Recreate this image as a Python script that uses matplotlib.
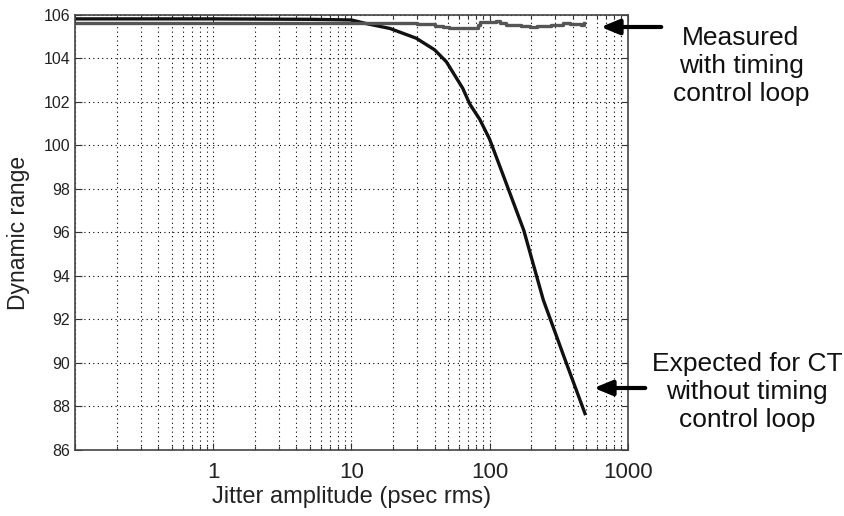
import numpy as np
import matplotlib.pyplot as plt
from matplotlib.ticker import FixedLocator, NullFormatter

plt.rcParams['font.family'] = ['Liberation Sans', 'DejaVu Sans']

# expected dynamic range for CT without timing control loop
expected_x = [0.1, 1, 5, 10, 12.9, 19, 29.5, 40, 48.7, 64, 72, 85, 100, 127, 177, 245, 350, 496]
expected_y = [105.82, 105.82, 105.8, 105.77, 105.6, 105.38, 104.93, 104.4, 103.85, 102.63, 101.9, 101.2,
              100.3, 98.55, 96.1, 92.9, 90.2, 87.6]

# measured dynamic range with timing control loop
measured_x = [0.1, 1, 10, 30, 37, 40, 46, 51, 60, 70, 76, 82, 85, 100, 112, 120, 132, 150, 170,
              195, 220, 250, 280, 310, 340, 380, 420, 460, 487]
measured_y = [105.62, 105.62, 105.62, 105.6, 105.58, 105.5, 105.45, 105.4, 105.38, 105.4, 105.42, 105.55,
              105.66, 105.68, 105.72, 105.65, 105.54, 105.52, 105.48, 105.46, 105.5, 105.48, 105.55,
              105.52, 105.62, 105.58, 105.6, 105.56, 105.62]

x_ticks = [0.1, 1, 10, 100, 1000]
x_tick_labels = ['', '1', '10', '100', '1000']
y_ticks = [86, 88, 90, 92, 94, 96, 98, 100, 102, 104, 106]

fig = plt.figure(figsize=(8.45, 5.16), dpi=100)
ax = fig.add_axes([0.0888, 0.128, 0.654, 0.843])

ax.plot(expected_x, expected_y, color='#111111', linewidth=2.4, solid_capstyle='butt')
ax.plot(measured_x, measured_y, color='#555555', linewidth=2.4, drawstyle='steps-post')

ax.set_xscale('log')
ax.set_xlim(0.1, 1000)
ax.set_ylim(86, 106)

ax.set_xticks(x_ticks)
ax.set_xticklabels(x_tick_labels, fontsize=16, color='#222222')
minors = [m * 10.0 ** e for e in range(-1, 3) for m in range(2, 10)]
ax.xaxis.set_minor_locator(FixedLocator(minors))
ax.xaxis.set_minor_formatter(NullFormatter())
ax.set_yticks(y_ticks)
ax.set_yticklabels([str(v) for v in y_ticks], fontsize=11.5, color='#222222')

ax.tick_params(which='both', direction='in', top=True, right=True, color='#333333')
ax.tick_params(which='major', length=5, width=0.8)
ax.tick_params(which='minor', length=3, width=0.8)
ax.tick_params(axis='x', pad=9)

ax.grid(True, which='major', axis='both', color='black', linestyle=(0, (1, 3)), linewidth=0.8)
ax.grid(True, which='minor', axis='x', color='black', linestyle=(0, (1, 3)), linewidth=0.8)

for s in ax.spines.values():
    s.set_color('#444444')
    s.set_linewidth(1.2)

ax.set_xlabel('Jitter amplitude (psec rms)', fontsize=17, color='#222222', labelpad=2)
ax.set_ylabel('Dynamic range', fontsize=16.5, color='#222222', labelpad=10)

ax.annotate('', xy=(598 / 845, 1 - 27 / 516), xycoords='figure fraction',
            xytext=(664 / 845, 1 - 27 / 516), textcoords='figure fraction',
            arrowprops=dict(arrowstyle='-|>,head_length=1.1,head_width=0.45', color='black', lw=3))
fig.text(741 / 845, 1 - 66 / 516, 'Measured\nwith timing\ncontrol loop', ha='center', va='center',
         fontsize=19, color='#111111', linespacing=1.2)

ax.annotate('', xy=(591 / 845, 1 - 388 / 516), xycoords='figure fraction',
            xytext=(648 / 845, 1 - 388 / 516), textcoords='figure fraction',
            arrowprops=dict(arrowstyle='-|>,head_length=1.1,head_width=0.45', color='black', lw=3))
fig.text(747 / 845, 1 - 392 / 516, 'Expected for CT\nwithout timing\ncontrol loop', ha='center',
         va='center', fontsize=19, color='#111111', linespacing=1.2)

fig.savefig('out.png', dpi=100)
